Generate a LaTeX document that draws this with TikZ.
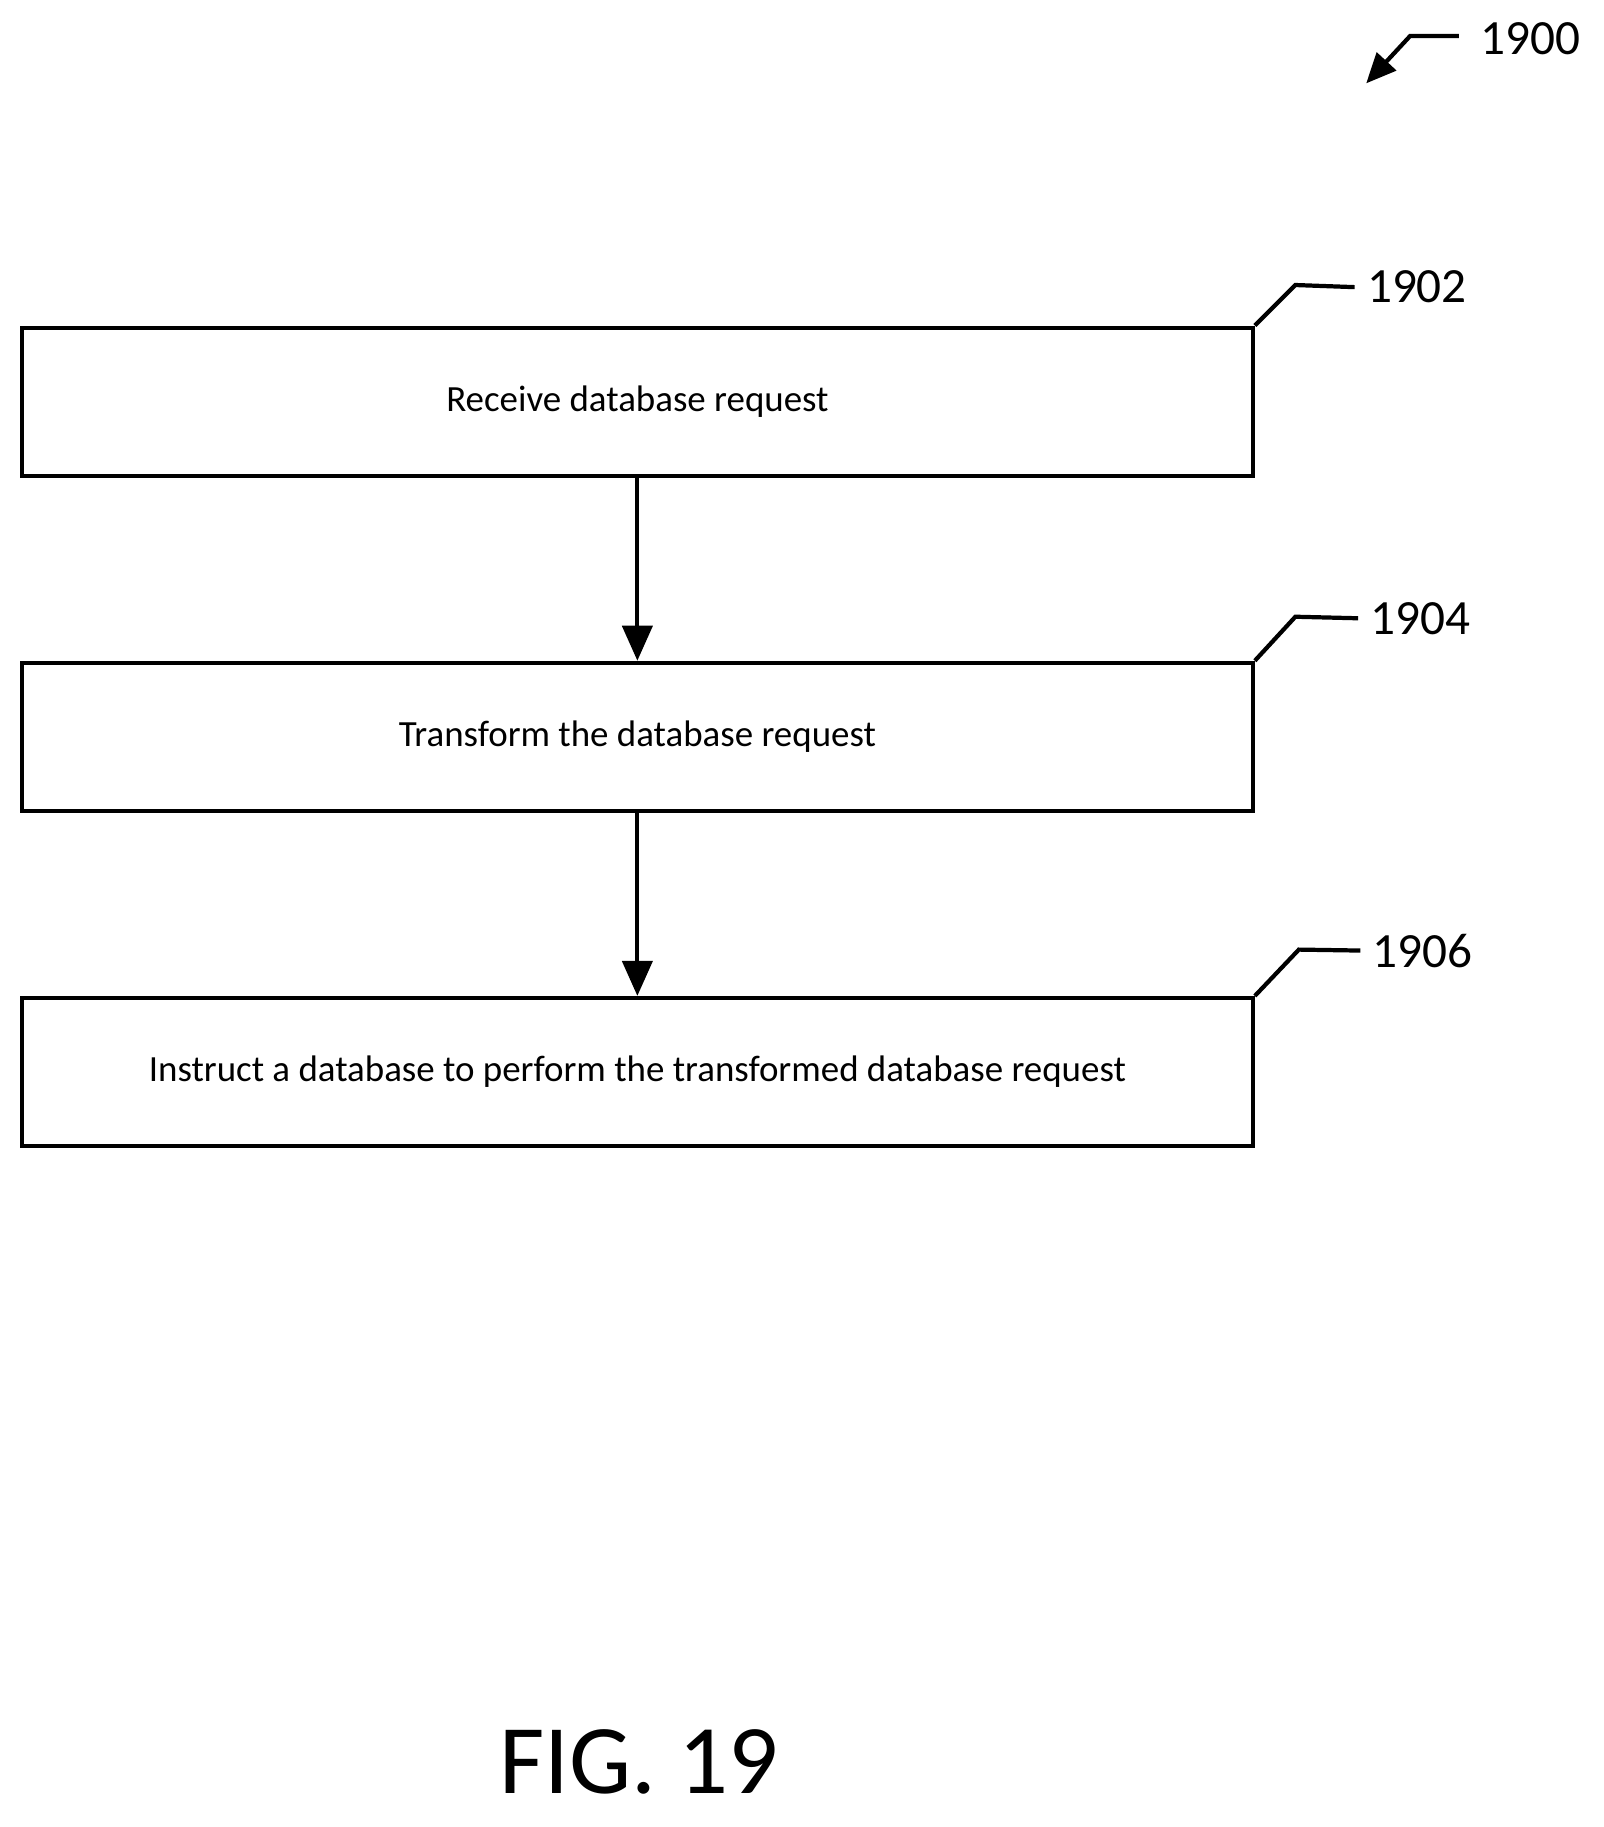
\documentclass[tikz,border=0pt]{standalone}
\usepackage{fontspec}
\setmainfont{Carlito}
\usetikzlibrary{positioning, arrows.meta}

\begin{document}
\begin{tikzpicture}[
    x=0.1157mm, y=-0.1157mm,
    stepbox/.style={rectangle, draw=black, line width=1.2pt, minimum width=1063*0.1157mm,
                 minimum height=128*0.1157mm, font=\fontsize{10.5}{12}\selectfont},
    arrow/.style={-{Triangle[length=3.5mm, width=3mm]}, line width=1.2pt},
    leader/.style={line width=1.2pt},
    refnum/.style={font=\fontsize{14}{16}\selectfont, anchor=west}
]
    \useasboundingbox (0,0) rectangle (1385,1578);

    % Steps
    \node[stepbox] (receive) at (550.5, 347) {Receive database request};
    \node[stepbox] (transform) at (550.5, 636.5) {Transform the database request};
    \node[stepbox] (instruct) at (550.5, 926) {Instruct a database to perform the transformed database request};

    % Arrows
    \draw[arrow] (receive) -- (transform);
    \draw[arrow] (transform) -- (instruct);

    % Reference numerals
    \node[refnum] (n1902) at (1170, 248) {1902};
    \node[refnum] (n1904) at (1173, 534) {1904};
    \node[refnum] (n1906) at (1175, 821) {1906};
    \node[refnum] (n1900) at (1268, 33) {1900};
    \draw[leader] (receive.north east) -- ++(35,-35) -- (n1902.west);
    \draw[leader] (transform.north east) -- ++(35,-38) -- (n1904.west);
    \draw[leader] (instruct.north east) -- ++(38,-40) -- (n1906.west);
    \coordinate (tip) at (1180, 72);
    \draw[leader, -{Triangle[length=3mm, width=2.6mm]}] (n1900.west) ++(-8,-2) -- (1218, 31) -- (tip);

    % Caption
    \node[font=\fontsize{28}{32}\selectfont] (fig) at (552, 1522) {FIG. 19};
\end{tikzpicture}
\end{document}
